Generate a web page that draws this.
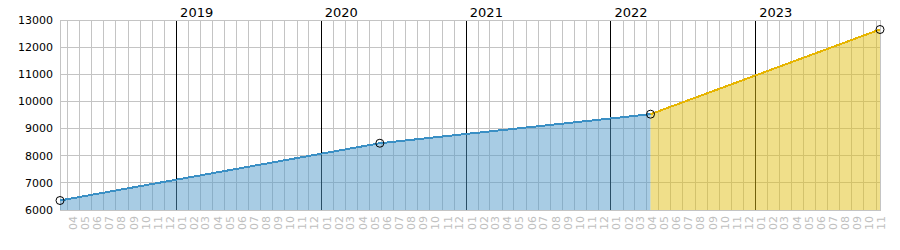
<!DOCTYPE html>
<html>
<head>
<meta charset="utf-8">
<script src="https://cdn.jsdelivr.net/npm/d3@7"></script>
<style>
  body { margin: 0; background: #fff; }
  text { font-family: "DejaVu Sans", Verdana, sans-serif; }
</style>
</head>
<body>
<script>
// points: past (blue) and projected (yellow)
const pastDates = ["2018-03-14", "2020-05-29", "2022-04-12"];
const pastValues = [6350, 8460, 9530];
const futureDates = ["2022-04-12", "2023-11-12"];
const futureValues = [9530, 12650];
const yTicks = [6000, 7000, 8000, 9000, 10000, 11000, 12000, 13000];

const [width, height] = [900, 250];
const margin = { top: 20, right: 20, bottom: 40, left: 60 };

const parse = d3.timeParse("%Y-%m-%d");
const past = pastDates.map((d, i) => ({ date: parse(d), value: pastValues[i] }));
const future = futureDates.map((d, i) => ({ date: parse(d), value: futureValues[i] }));

const x = d3
  .scaleTime()
  .domain([past[0].date, future[future.length - 1].date])
  .range([margin.left, width - margin.right]);

const y = d3
  .scaleLinear()
  .domain([6000, 13000])
  .range([height - margin.bottom, margin.top]);

const svg = d3
  .select("body")
  .append("svg")
  .attr("width", width)
  .attr("height", height);

const months = d3.timeMonth.range(d3.timeMonth.ceil(x.domain()[0]), x.domain()[1]);
const years = d3.timeYear.range(d3.timeYear.ceil(x.domain()[0]), x.domain()[1]);

// grid
const grid = svg.append("g").attr("shape-rendering", "crispEdges");

grid
  .selectAll(".hgrid")
  .data(yTicks)
  .enter()
  .append("line")
  .attr("x1", margin.left)
  .attr("x2", width - margin.right)
  .attr("y1", d => y(d))
  .attr("y2", d => y(d))
  .attr("stroke", "#c4c4c4");

grid
  .selectAll(".vgrid")
  .data(months)
  .enter()
  .append("line")
  .attr("x1", d => Math.round(x(d)) + 0.5)
  .attr("x2", d => Math.round(x(d)) + 0.5)
  .attr("y1", y.range()[1])
  .attr("y2", y.range()[0])
  .attr("stroke", d => (d.getMonth() === 0 ? "#000" : "#c4c4c4"));

grid
  .append("rect")
  .attr("x", margin.left + 0.5)
  .attr("y", margin.top + 0.5)
  .attr("width", width - margin.left - margin.right)
  .attr("height", height - margin.top - margin.bottom)
  .attr("fill", "none")
  .attr("stroke", "#c4c4c4");

// areas
const area = d3
  .area()
  .x(d => x(d.date))
  .y0(y(6000))
  .y1(d => y(d.value));

const line = d3
  .line()
  .x(d => x(d.date))
  .y(d => y(d.value));

svg
  .append("path")
  .datum(past)
  .attr("d", area)
  .attr("fill", "rgb(81,153,201)")
  .attr("fill-opacity", 0.5);

svg
  .append("path")
  .datum(future)
  .attr("d", area)
  .attr("fill", "rgb(226,192,22)")
  .attr("fill-opacity", 0.5);

svg
  .append("path")
  .datum(past)
  .attr("d", line)
  .attr("fill", "none")
  .attr("stroke", "#3a8fc4")
  .attr("stroke-width", 2)
  .attr("shape-rendering", "crispEdges");

svg
  .append("path")
  .datum(future)
  .attr("d", line)
  .attr("fill", "none")
  .attr("stroke", "#e6b400")
  .attr("stroke-width", 2)
  .attr("shape-rendering", "crispEdges");

// markers
svg
  .selectAll(".marker")
  .data(past.concat(future.slice(1)))
  .enter()
  .append("circle")
  .attr("cx", d => x(d.date))
  .attr("cy", d => y(d.value))
  .attr("r", 4)
  .attr("fill", "none")
  .attr("stroke", "#000")
  .attr("stroke-width", 1);

// y labels
svg
  .selectAll(".ylabel")
  .data(yTicks)
  .enter()
  .append("text")
  .attr("x", margin.left - 7)
  .attr("y", d => y(d))
  .attr("dy", "0.35em")
  .attr("text-anchor", "end")
  .attr("font-size", 11)
  .attr("fill", "#000")
  .text(d => d);

// month labels
svg
  .selectAll(".mlabel")
  .data(months)
  .enter()
  .append("text")
  .attr("transform", d => `translate(${x(d) + 6},${y(6000) + 6}) rotate(-90)`)
  .attr("dy", "0.35em")
  .attr("text-anchor", "end")
  .attr("font-size", 11)
  .attr("fill", "#c0c0c0")
  .text(d3.timeFormat("%m"));

// year labels
svg
  .selectAll(".ylab")
  .data(years)
  .enter()
  .append("text")
  .attr("x", d => x(d) + 4)
  .attr("y", margin.top - 3)
  .attr("font-size", 13)
  .attr("fill", "#000")
  .text(d3.timeFormat("%Y"));
</script>
</body>
</html>
